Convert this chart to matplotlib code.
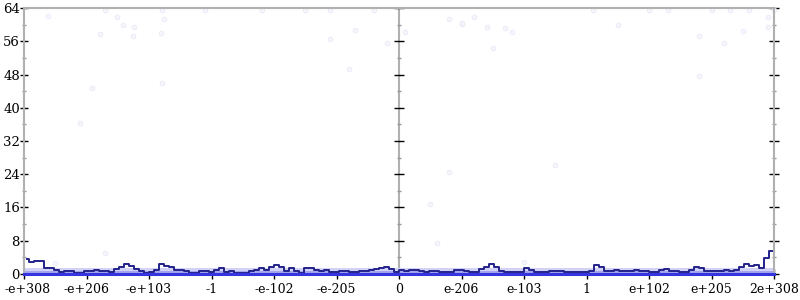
import matplotlib.pyplot as plt
import numpy as np

# bucket positions 0..12 (float bit-pattern order), labels at each integer
tick_labels = ['-e+308', '-e+206', '-e+103', '-1', '-e-102', '-e-205', '0',
               'e-206', 'e-103', '1', 'e+102', 'e+205', '2e+308']

# dark line: 150 bins across the whole range
line_vals = [
    3.6, 2.8, 3.1, 3.1, 1.4, 1.4, 1.0, 0.4, 0.7, 0.7,
    0.3, 0.3, 0.7, 0.7, 1.0, 0.8, 0.6, 0.4, 1.1, 1.8,
    2.3, 1.9, 1.2, 0.6, 0.3, 0.4, 1.0, 2.3, 2.0, 1.6,
    1.0, 1.0, 0.6, 0.3, 0.3, 0.7, 0.7, 0.4, 1.0, 1.4,
    0.5, 0.8, 0.3, 0.3, 0.3, 0.7, 1.0, 1.4, 1.0, 1.8,
    2.2, 1.8, 0.7, 1.4, 0.7, 0.3, 1.4, 1.4, 1.0, 0.7,
    1.0, 0.5, 0.5, 0.8, 0.6, 0.4, 0.5, 0.7, 0.8, 1.0,
    1.3, 1.5, 1.8, 1.2, 0.5,
    1.0, 0.7, 1.0, 0.9, 0.8, 0.5, 0.8, 0.6, 0.5, 0.5,
    0.5, 1.0, 1.0, 0.7, 0.4, 0.4, 1.3, 1.6, 2.3, 1.6,
    0.6, 0.4, 0.4, 0.4, 0.4, 1.4, 1.0, 0.5, 0.4, 0.4,
    0.7, 0.7, 0.7, 0.4, 0.4, 0.4, 0.4, 0.4, 0.6, 2.2,
    1.8, 0.7, 0.7, 0.9, 0.6, 0.6, 0.7, 1.0, 0.7, 0.6,
    0.4, 0.4, 1.0, 1.2, 0.8, 0.7, 0.4, 0.4, 0.9, 1.6,
    1.5, 0.8, 0.7, 0.7, 0.7, 0.9, 0.8, 1.0, 1.8, 2.5,
    1.9, 2.2, 1.5, 3.9, 5.5,
]

# faint scattered samples (bucket position, value)
dot_x = [0.38, 1.49, 1.58, 1.76, 1.22, 1.74, 2.19, 2.24, 1.09, 2.21,
         1.3, 2.2, 2.9, 3.8, 4.5, 4.9, 5.6, 5.3, 4.9, 5.8,
         5.2, 6.1, 6.8, 7.0, 7.2, 7.4, 7.5, 7.7, 7.8, 7.0,
         9.5, 10.8, 11.2, 11.5, 11.9, 11.9, 10.8, 10.0, 10.3, 11.0,
         11.3, 11.6, 12.0, 0.9, 1.3, 6.5, 6.6, 6.8, 0.5, 8.0, 8.5, 9.1]
dot_y = [62.0, 61.8, 60.0, 59.4, 57.7, 57.3, 58.0, 61.4, 44.8, 46.0,
         63.5, 63.5, 63.5, 63.5, 63.5, 63.5, 63.5, 58.7, 56.5, 55.6,
         49.3, 58.2, 61.4, 60.2, 61.8, 59.4, 54.4, 59.2, 58.2, 60.4,
         59.9, 57.3, 55.6, 58.5, 61.8, 59.4, 47.6, 63.5, 63.5, 63.5,
         63.5, 63.5, 63.5, 36.3, 5.1, 16.8, 7.5, 24.5, 2.6, 2.9, 26.2, 63.5]

band_top = 1.4
band_mid = 0.7

x = np.linspace(0, 12, len(line_vals) + 1)
xc = (x[:-1] + x[1:]) / 2

plt.rcParams['font.family'] = 'DejaVu Serif'
fig = plt.figure(figsize=(8, 3), dpi=100)
ax = fig.add_axes([0.03, 0.0867, 0.9375, 0.8866])

ax.scatter(dot_x, dot_y, s=12, facecolor='#f5f5fc', edgecolor='#e8e8f7',
           linewidth=0.5, zorder=1, clip_on=False)
ax.fill_between([0, 12], 0, band_top, color='#d2d2f7', lw=0, zorder=2)
ax.fill_between([0, 12], 0, band_mid, color='#a4a4ef', lw=0, zorder=2)
ax.plot(xc, line_vals, color='#23238c', lw=1.4, drawstyle='steps-mid', zorder=3)
ax.axhline(0, color='#3535e0', lw=2.2, zorder=4, clip_on=False)

ax.set_xlim(0, 12)
ax.set_ylim(0, 64)

gray = '#b0b0b0'
for s in ['left', 'top', 'right']:
    ax.spines[s].set_color(gray)
    ax.spines[s].set_linewidth(1.5)
ax.spines['bottom'].set_visible(False)
ax.axvline(6, color=gray, lw=1.5, zorder=0)

# first label is drawn separately, nudged right so it is not cut at the edge
ax.set_xticks(range(13))
ax.set_xticklabels([''] + tick_labels[1:], fontsize=9)
ax.annotate(tick_labels[0], xy=(0, 0), xycoords=('data', 'axes fraction'),
            xytext=(2.5, -6.5), textcoords='offset points',
            ha='center', va='top', fontsize=9)

ax.set_yticks(range(0, 65, 8))
ax.set_yticks(range(4, 64, 8), minor=True)
ax.set_yticklabels([str(v) for v in range(0, 65, 8)], fontsize=9.5)
ax.tick_params(axis='x', direction='inout', length=7, width=1, pad=3)
ax.tick_params(axis='y', which='major', direction='inout', length=6, width=1, pad=0)
ax.tick_params(axis='y', which='minor', direction='inout', length=3.5, width=1, color='#999999')

for loc in [0.5, 1.0]:
    sec = ax.secondary_yaxis(loc)
    sec.set_yticks(range(0, 65, 8))
    sec.set_yticks(range(4, 64, 8), minor=True)
    sec.set_yticklabels([])
    sec.spines['right'].set_visible(False)
    sec.spines['left'].set_visible(False)
    sec.tick_params(axis='y', which='major', direction='inout', length=7, width=1)
    sec.tick_params(axis='y', which='minor', direction='inout', length=3.5, width=1, color='#999999')

fig.savefig('out.png', dpi=100)
